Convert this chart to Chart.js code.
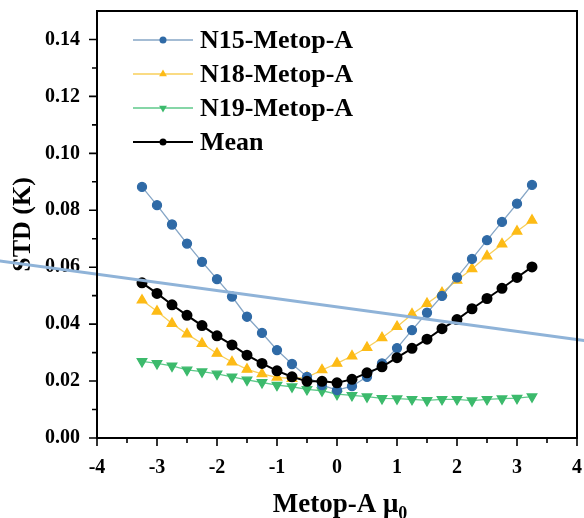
<!DOCTYPE html>
<html>
<head>
<meta charset="utf-8">
<script src="https://cdn.jsdelivr.net/npm/chart.js@4/dist/chart.umd.min.js"></script>
<style>
  html, body { margin: 0; padding: 0; background: #fff; overflow: hidden; }
  #wrap { width: 584px; height: 518px; overflow: hidden; position: relative; }
  canvas { position: absolute; left: 0; top: 0; }
</style>
</head>
<body>
<div id="wrap"><canvas id="stdChart" width="600" height="518"></canvas></div>
<script>
// valores de Metop-A mu0 (eje x)
const muValues = [-3.25, -3.0, -2.75, -2.5, -2.25, -2.0, -1.75, -1.5, -1.25, -1.0, -0.75, -0.5, -0.25, 0.0,
  0.25, 0.5, 0.75, 1.0, 1.25, 1.5, 1.75, 2.0, 2.25, 2.5, 2.75, 3.0, 3.25]

// STD (K) de cada serie
const n15Std = [0.0882, 0.0818, 0.0750, 0.0683, 0.0619, 0.0558, 0.0497, 0.0426, 0.0369, 0.0309, 0.0260, 0.0215, 0.0186, 0.0168,
  0.0182, 0.0215, 0.0262, 0.0316, 0.0379, 0.0440, 0.0499, 0.0564, 0.0629, 0.0695, 0.0759, 0.0823, 0.0889]
const n18Std = [0.0484, 0.0445, 0.0402, 0.0365, 0.0332, 0.0297, 0.0267, 0.0241, 0.0225, 0.0213, 0.0209, 0.0213, 0.0239, 0.0262,
  0.0288, 0.0318, 0.0352, 0.0391, 0.0435, 0.0472, 0.0510, 0.0554, 0.0594, 0.0639, 0.0681, 0.0726, 0.0765]
const n19Std = [0.0269, 0.0262, 0.0253, 0.0239, 0.0233, 0.0225, 0.0215, 0.0204, 0.0195, 0.0186, 0.0180, 0.0171, 0.0166, 0.0154,
  0.0150, 0.0145, 0.0139, 0.0138, 0.0136, 0.0132, 0.0136, 0.0136, 0.0131, 0.0136, 0.0138, 0.0140, 0.0145]
const meanStd = [0.0545, 0.0508, 0.0468, 0.0431, 0.0395, 0.0359, 0.0327, 0.0291, 0.0262, 0.0236, 0.0215, 0.0199, 0.0199, 0.0194,
  0.0206, 0.0229, 0.0250, 0.0282, 0.0315, 0.0347, 0.0384, 0.0416, 0.0454, 0.0490, 0.0526, 0.0564, 0.0601]

// linea azul clara que cruza toda la figura
const refLineX = [-5.7, 4.3]
const refLineY = [0.0624, 0.0337]

// etiquetas de los ejes
const xTicks = [-4, -3, -2, -1, 0, 1, 2, 3, 4]
const xMinor = [-3.5, -2.5, -1.5, -0.5, 0.5, 1.5, 2.5, 3.5]
const yTicks = [0.00, 0.02, 0.04, 0.06, 0.08, 0.10, 0.12, 0.14]
const yMinor = [0.01, 0.03, 0.05, 0.07, 0.09, 0.11, 0.13]

const seriesNames = ['N15-Metop-A', 'N18-Metop-A', 'N19-Metop-A', 'Mean']

const FONT = "'Liberation Serif', 'Times New Roman', serif"

function toPoints(xs, ys) {
    let pts = []
    for (let i = 0; i < xs.length; i++) {
        pts.push({ x: xs[i], y: ys[i] })
    }
    return pts
}

// marcas de los ejes, marco, titulo x y leyenda
const axisPlugin = {
    id: 'axisExtras',
    afterDraw(chart) {
        const ctx = chart.ctx, sx = chart.scales.x, sy = chart.scales.y, a = chart.chartArea
        ctx.save()
        ctx.strokeStyle = '#000'
        ctx.lineWidth = 2
        ctx.strokeRect(a.left, a.top, a.right - a.left, a.bottom - a.top)

        ctx.lineWidth = 1.6
        ctx.beginPath()
        xTicks.forEach(v => { let p = sx.getPixelForValue(v); ctx.moveTo(p, a.bottom); ctx.lineTo(p, a.bottom + 8) })
        xMinor.forEach(v => { let p = sx.getPixelForValue(v); ctx.moveTo(p, a.bottom); ctx.lineTo(p, a.bottom + 5) })
        yTicks.forEach(v => { let p = sy.getPixelForValue(v); ctx.moveTo(a.left, p); ctx.lineTo(a.left - 8, p) })
        yMinor.forEach(v => { let p = sy.getPixelForValue(v); ctx.moveTo(a.left, p); ctx.lineTo(a.left - 5, p) })
        ctx.stroke()

        // titulo del eje x con subindice
        ctx.fillStyle = '#000'
        ctx.textBaseline = 'alphabetic'
        let main = 'Metop-A \u03bc'
        ctx.font = 'bold 18px ' + FONT
        let subW = ctx.measureText('0').width
        ctx.font = 'bold 27px ' + FONT
        let mainW = ctx.measureText(main).width
        let cx = (a.left + a.right) / 2 + 3
        let startX = cx - (mainW + subW) / 2
        ctx.fillText(main, startX, 512)
        ctx.font = 'bold 18px ' + FONT
        ctx.fillText('0', startX + mainW, 519)

        // leyenda
        const ds = chart.data.datasets
        for (let i = 0; i < 4; i++) {
            let yy = a.top + 29 + i * 34
            let x0 = a.left + 36, x1 = a.left + 96
            ctx.strokeStyle = ds[i].borderColor
            ctx.lineWidth = i === 3 ? 2 : 1.5
            ctx.beginPath()
            ctx.moveTo(x0, yy)
            ctx.lineTo(x1, yy)
            ctx.stroke()
            ctx.fillStyle = ds[i].pointBackgroundColor
            Chart.helpers.drawPoint(ctx, {
                pointStyle: ds[i].pointStyle, rotation: ds[i].pointRotation || 0,
                radius: i === 0 || i === 3 ? 3.5 : 4.5, borderWidth: 0
            }, (x0 + x1) / 2, yy)
            ctx.fillStyle = '#000'
            ctx.font = 'bold 26px ' + FONT
            ctx.textBaseline = 'middle'
            ctx.fillText(seriesNames[i], x1 + 7, yy + 1)
        }
        ctx.restore()
    }
}

const STD_CHART = document.getElementById('stdChart')

new Chart(STD_CHART, {
    type: 'scatter',
    data: {
        datasets: [{
            label: seriesNames[0],
            data: toPoints(muValues, n15Std),
            showLine: true,
            borderColor: '#86a6c6',
            borderWidth: 1.3,
            pointBackgroundColor: '#2f6aa6',
            pointBorderColor: '#2f6aa6',
            pointStyle: 'circle',
            pointRadius: 4.5,
            order: 3
        }, {
            label: seriesNames[1],
            data: toPoints(muValues, n18Std),
            showLine: true,
            borderColor: '#f8cf5a',
            borderWidth: 1.3,
            pointBackgroundColor: '#fdbb16',
            pointBorderColor: '#fdbb16',
            pointStyle: 'triangle',
            pointRadius: 5.5,
            order: 4
        }, {
            label: seriesNames[2],
            data: toPoints(muValues, n19Std),
            showLine: true,
            borderColor: '#5ec98a',
            borderWidth: 1.3,
            pointBackgroundColor: '#3cba6c',
            pointBorderColor: '#3cba6c',
            pointStyle: 'triangle',
            pointRotation: 180,
            pointRadius: 5.5,
            order: 5
        }, {
            label: seriesNames[3],
            data: toPoints(muValues, meanStd),
            showLine: true,
            borderColor: '#000',
            borderWidth: 2,
            pointBackgroundColor: '#000',
            pointBorderColor: '#000',
            pointStyle: 'circle',
            pointRadius: 4.5,
            order: 2
        }, {
            label: 'ref',
            data: toPoints(refLineX, refLineY),
            showLine: true,
            borderColor: '#8fb3d8',
            borderWidth: 3,
            pointRadius: 0,
            clip: false,
            order: 1
        }]
    },
    options: {
        responsive: false,
        animation: false,
        layout: { padding: { top: 11, right: 20, left: 0, bottom: 0 } },
        plugins: {
            legend: { display: false },
            tooltip: { enabled: false }
        },
        scales: {
            x: {
                type: 'linear',
                min: -4,
                max: 4,
                afterBuildTicks: s => { s.ticks = xTicks.map(v => ({ value: v })) },
                afterFit: s => { s.height = 80 },
                grid: { drawOnChartArea: false, drawTicks: false },
                border: { display: true, color: '#000', width: 2 },
                ticks: {
                    padding: 18,
                    color: '#000',
                    maxRotation: 0,
                    font: { family: FONT, size: 20, weight: 'bold' }
                }
            },
            y: {
                type: 'linear',
                min: 0,
                max: 0.15,
                afterBuildTicks: s => { s.ticks = yTicks.map(v => ({ value: v })) },
                afterFit: s => { s.width = 97; s.paddingTop = 0; s.paddingBottom = 0 },
                grid: { drawOnChartArea: false, drawTicks: false },
                border: { display: true, color: '#000', width: 2 },
                title: {
                    display: true,
                    text: 'STD (K)',
                    color: '#000',
                    padding: { top: 8, bottom: 0 },
                    font: { family: FONT, size: 26, weight: 'bold' }
                },
                ticks: {
                    padding: 17,
                    color: '#000',
                    callback: v => v.toFixed(2),
                    font: { family: FONT, size: 20, weight: 'bold' }
                }
            }
        }
    },
    plugins: [axisPlugin]
})
</script>
</body>
</html>
